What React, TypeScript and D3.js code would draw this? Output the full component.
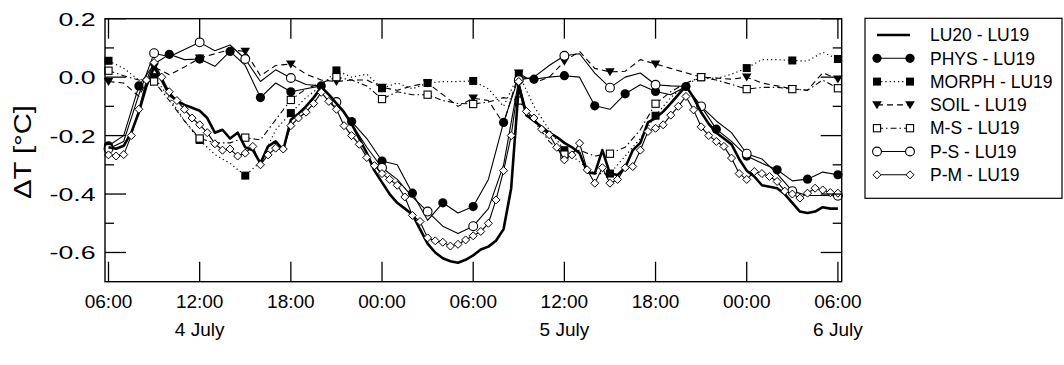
import React from 'react';
import * as d3 from 'd3';

// time grid: hours after 06:00 on 4 July
const hourly = d3.range(0, 49);
const halfHourly = d3.range(0, 97).map((i) => i / 2);

const lu20Values = [
  -0.24, -0.245, -0.235, -0.19, -0.12, -0.03, 0.035, -0.01, -0.06, -0.08, -0.095, -0.105,
  -0.115, -0.14, -0.19, -0.18, -0.21, -0.19, -0.24, -0.25, -0.295, -0.237, -0.22, -0.25,
  -0.146, -0.125, -0.1, -0.07, -0.035, -0.06, -0.09, -0.12, -0.16, -0.21, -0.26, -0.32,
  -0.36, -0.4, -0.43, -0.45, -0.47, -0.52, -0.57, -0.6, -0.62, -0.63, -0.635, -0.625,
  -0.61, -0.59, -0.58, -0.56, -0.52, -0.38, -0.03, -0.13, -0.15, -0.17, -0.19, -0.205,
  -0.225, -0.24, -0.26, -0.325, -0.33, -0.25, -0.33, -0.335, -0.31, -0.25, -0.225, -0.155,
  -0.14, -0.118, -0.09, -0.06, -0.03, -0.07, -0.12, -0.16, -0.19, -0.21, -0.23, -0.28,
  -0.32, -0.34, -0.37, -0.375, -0.38, -0.4, -0.43, -0.46, -0.465, -0.46, -0.445, -0.45, -0.45,
];

const pmValues = [
  -0.266, -0.27, -0.265, -0.2, -0.11, -0.01, 0.05, 0.0, -0.05, -0.08, -0.11, -0.14,
  -0.163, -0.19, -0.228, -0.25, -0.246, -0.27, -0.26, -0.237, -0.3, -0.266, -0.243, -0.246,
  -0.166, -0.14, -0.12, -0.09, -0.052, -0.083, -0.11, -0.166, -0.2, -0.23, -0.275, -0.303,
  -0.33, -0.35, -0.37, -0.41, -0.473, -0.494, -0.55, -0.56, -0.565, -0.578, -0.572, -0.557,
  -0.543, -0.528, -0.5, -0.42, -0.32, -0.2, -0.015, -0.117, -0.14, -0.178, -0.197, -0.24,
  -0.283, -0.266, -0.226, -0.317, -0.363, -0.31, -0.363, -0.35, -0.31, -0.306, -0.25, -0.186,
  -0.175, -0.163, -0.13, -0.1, -0.066, -0.112, -0.17, -0.2, -0.22, -0.237, -0.277, -0.33,
  -0.35, -0.323, -0.33, -0.34, -0.357, -0.39, -0.4, -0.414, -0.397, -0.38, -0.386, -0.395, -0.397,
];

const physValues = [
  -0.235, -0.2, -0.03, 0.045, 0.078, 0.06, 0.062, 0.037, 0.088, 0.04, -0.07, -0.02,
  -0.05, -0.04, -0.03, -0.09, -0.152, -0.21, -0.287, -0.3, -0.397, -0.49, -0.43, -0.465,
  -0.443, -0.35, -0.155, 0.0, -0.007, 0.0, 0.005, 0.0, -0.098, -0.11, -0.057, -0.026,
  -0.049, -0.06, -0.032, -0.1, -0.178, -0.22, -0.27, -0.295, -0.317, -0.355, -0.349, -0.325, -0.334,
];

const morphValues = [
  0.056, 0.03, -0.01, 0.0, -0.07, -0.15, -0.215, -0.265, -0.295, -0.337, -0.29, -0.18,
  -0.123, -0.07, -0.03, 0.023, 0.0, 0.01, -0.038, -0.02, -0.04, -0.02, -0.015, -0.015,
  -0.013, -0.04, -0.1, 0.011, -0.1, -0.18, -0.25, -0.29, -0.33, -0.33, -0.27, -0.21,
  -0.132, -0.07, -0.025, 0.0, -0.005, 0.01, 0.031, 0.06, 0.06, 0.057, 0.055, 0.085, 0.062,
];

const soilValues = [
  -0.015, -0.02, -0.066, 0.035, 0.008, 0.035, 0.065, 0.08, 0.094, 0.088, 0.005, 0.04,
  0.045, 0.01, -0.01, -0.015, -0.01, -0.01, -0.035, -0.045, -0.03, -0.02, -0.06, -0.1,
  -0.072, -0.08, -0.16, 0.014, -0.02, 0.0, 0.054, 0.088, 0.03, 0.018, 0.02, 0.06,
  0.045, 0.03, 0.015, 0.0, -0.003, -0.007, 0.0, -0.02, -0.03, -0.04, -0.045, 0.015, -0.007,
];

const msValues = [
  0.022, 0.005, -0.01, -0.015, -0.08, -0.15, -0.21, -0.225, -0.225, -0.207, -0.215, -0.146,
  -0.078, -0.04, -0.02, 0.0, -0.01, -0.03, -0.075, -0.05, -0.06, -0.06, -0.08, -0.09,
  -0.092, -0.085, -0.07, -0.08, -0.15, -0.22, -0.265, -0.25, -0.27, -0.262, -0.24, -0.18,
  -0.091, -0.05, -0.02, 0.0, -0.01, -0.025, -0.041, -0.035, -0.035, -0.041, -0.045, -0.01, -0.038,
];

const psValues = [
  -0.245, -0.22, -0.06, 0.082, 0.07, 0.095, 0.119, 0.09, 0.11, 0.062, -0.015, 0.025,
  -0.003, -0.025, -0.03, -0.085, -0.16, -0.24, -0.31, -0.35, -0.41, -0.46, -0.51, -0.535,
  -0.51, -0.45, -0.3, -0.01, 0.0, 0.04, 0.073, 0.08, 0.014, -0.036, 0.0, 0.014,
  -0.026, -0.03, -0.032, -0.1, -0.15, -0.19, -0.262, -0.28, -0.33, -0.39, -0.405, -0.405, -0.406,
];

const seriesNames = [
  'LU20 - LU19',
  'PHYS - LU19',
  'MORPH - LU19',
  'SOIL - LU19',
  'M-S - LU19',
  'P-S - LU19',
  'P-M - LU19',
];

const xTickHours = [0, 6, 12, 18, 24, 30, 36, 42, 48];
const xTickLabels = ['06:00', '12:00', '18:00', '00:00', '06:00', '12:00', '18:00', '00:00', '06:00'];
const dateHours = [6, 30, 48];
const dateLabels = ['4 July', '5 July', '6 July'];
const yMajorTicks = [0.2, 0.0, -0.2, -0.4, -0.6];
const yMajorLabels = ['0.2', '0.0', '-0.2', '-0.4', '-0.6'];
const yMinorTicks = [0.1, -0.1, -0.3, -0.5];

type MarkerKind = 'none' | 'fcircle' | 'fsquare' | 'ftri' | 'osquare' | 'ocircle' | 'odiamond';

interface Series {
  name: string;
  t: number[];
  v: number[];
  width: number;
  dash: string;
  marker: MarkerKind;
  every: number;
}

const FONT = 'Liberation Sans, Arial, Helvetica, sans-serif';

function Marker({ kind, cx, cy }: { kind: MarkerKind; cx: number; cy: number }) {
  switch (kind) {
    case 'fcircle':
      return <circle cx={cx} cy={cy} r={4.6} fill="#000" />;
    case 'ocircle':
      return <circle cx={cx} cy={cy} r={4.4} fill="#fff" stroke="#000" strokeWidth={1.1} />;
    case 'fsquare':
      return <rect x={cx - 4} y={cy - 4} width={8} height={8} fill="#000" />;
    case 'osquare':
      return <rect x={cx - 3.6} y={cy - 3.6} width={7.2} height={7.2} fill="#fff" stroke="#000" strokeWidth={1.1} />;
    case 'ftri':
      return <path d={`M${cx - 4.8},${cy - 3.6}L${cx + 4.8},${cy - 3.6}L${cx},${cy + 4.4}Z`} fill="#000" />;
    case 'odiamond':
      return (
        <path
          d={`M${cx},${cy - 4}L${cx + 4},${cy}L${cx},${cy + 4}L${cx - 4},${cy}Z`}
          fill="#fff"
          stroke="#000"
          strokeWidth={1}
        />
      );
    default:
      return null;
  }
}

export default function App() {
  const W = 1064;
  const H = 365;
  const left = 105;
  const right = 841.7;
  const top = 18.7;
  const bottom = 281.7;

  const x = d3.scaleLinear().domain([-0.23, 48.25]).range([left, right]);
  const y = d3.scaleLinear().domain([-0.7, 0.2]).range([bottom, top]);

  const series: Series[] = [
    { name: seriesNames[2], t: hourly, v: morphValues, width: 1.2, dash: '1.2,3', marker: 'fsquare', every: 3 },
    { name: seriesNames[3], t: hourly, v: soilValues, width: 1.1, dash: '6,4', marker: 'ftri', every: 3 },
    { name: seriesNames[4], t: hourly, v: msValues, width: 1.1, dash: '6,3,1.5,3', marker: 'osquare', every: 3 },
    { name: seriesNames[1], t: hourly, v: physValues, width: 1.1, dash: '', marker: 'fcircle', every: 2 },
    { name: seriesNames[5], t: hourly, v: psValues, width: 1.1, dash: '', marker: 'ocircle', every: 3 },
    { name: seriesNames[0], t: halfHourly, v: lu20Values, width: 2.6, dash: '', marker: 'none', every: 1 },
    { name: seriesNames[6], t: halfHourly, v: pmValues, width: 1.1, dash: '', marker: 'odiamond', every: 1 },
  ];

  const line = d3
    .line<[number, number]>()
    .x((d) => x(d[0]))
    .y((d) => y(d[1]));

  const legendOrder = [5, 3, 0, 1, 2, 4, 6];
  const legendX0 = 877;
  const legendX1 = 910;

  return (
    <svg
      width={W}
      height={H}
      style={{ position: 'absolute', left: 0, top: 0, background: '#fff' }}
      fontFamily={FONT}
    >
      <rect x={0} y={0} width={W} height={H} fill="#fff" />
      {/* series */}
      {series.map((s) => {
        const pts: [number, number][] = s.t.map((t, i) => [t, s.v[i]]);
        return (
          <g key={s.name}>
            <path
              d={line(pts) || ''}
              fill="none"
              stroke="#000"
              strokeWidth={s.width}
              strokeDasharray={s.dash || undefined}
              strokeLinejoin="round"
            />
            {s.marker !== 'none' &&
              pts
                .filter((_, i) => i % s.every === 0)
                .map((p, i) => <Marker key={i} kind={s.marker} cx={x(p[0])} cy={y(p[1])} />)}
          </g>
        );
      })}

      {/* frame */}
      <rect x={left} y={top} width={right - left} height={bottom - top} fill="none" stroke="#000" strokeWidth={1.4} />

      {/* x ticks */}
      {xTickHours.map((h, i) => (
        <g key={'xt' + i}>
          <line x1={x(h)} x2={x(h)} y1={bottom} y2={bottom - 20} stroke="#000" strokeWidth={1.3} />
          <line x1={x(h)} x2={x(h)} y1={top} y2={top + 20} stroke="#000" strokeWidth={1.3} />
          <text x={x(h)} y={307.5} fontSize={19} textAnchor="middle">
            {xTickLabels[i]}
          </text>
        </g>
      ))}
      {dateHours.map((h, i) => (
        <text key={'d' + i} x={x(h)} y={336} fontSize={19} textAnchor="middle">
          {dateLabels[i]}
        </text>
      ))}

      {/* y ticks */}
      {yMajorTicks.map((v, i) => (
        <g key={'yt' + i}>
          <line x1={left} x2={left + 21} y1={y(v)} y2={y(v)} stroke="#000" strokeWidth={1.3} />
          <line x1={right} x2={right - 21} y1={y(v)} y2={y(v)} stroke="#000" strokeWidth={1.3} />
          <text
            x={95.5}
            y={y(v) + 7}
            fontSize={19}
            textAnchor="end"
            textLength={yMajorLabels[i].length > 3 ? 46 : 37}
            lengthAdjust="spacingAndGlyphs"
          >
            {yMajorLabels[i]}
          </text>
        </g>
      ))}
      {yMinorTicks.map((v, i) => (
        <g key={'ym' + i}>
          <line x1={left} x2={left + 9} y1={y(v)} y2={y(v)} stroke="#000" strokeWidth={1.3} />
          <line x1={right} x2={right - 9} y1={y(v)} y2={y(v)} stroke="#000" strokeWidth={1.3} />
        </g>
      ))}

      <text
        transform="translate(31,152) rotate(-90)"
        fontSize={23}
        textAnchor="middle"
        textLength={94}
        lengthAdjust="spacingAndGlyphs"
      >
        ΔT [°C]
      </text>

      {/* legend */}
      <rect x={865} y={18.3} width={197} height={180} fill="#fff" stroke="#000" strokeWidth={1.2} />
      {legendOrder.map((si, row) => {
        const s = series[si];
        const yy = 35 + row * 23.3;
        return (
          <g key={'lg' + row}>
            <line
              x1={legendX0}
              x2={legendX1}
              y1={yy}
              y2={yy}
              stroke="#000"
              strokeWidth={s.width}
              strokeDasharray={s.dash || undefined}
            />
            {s.marker !== 'none' && (
              <>
                <Marker kind={s.marker} cx={legendX0} cy={yy} />
                <Marker kind={s.marker} cx={legendX1} cy={yy} />
              </>
            )}
            <text x={930} y={yy + 6.2} fontSize={17.5}>
              {s.name}
            </text>
          </g>
        );
      })}
    </svg>
  );
}
